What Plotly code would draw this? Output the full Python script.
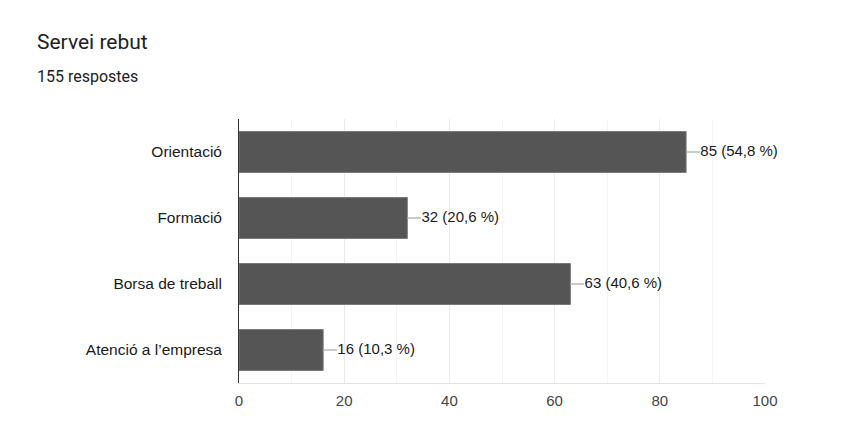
import plotly.graph_objects as go

categories = ["Orientació", "Formació", "Borsa de treball", "Atenció a l’empresa"]
counts = [85, 32, 63, 16]
percents = ["54,8", "20,6", "40,6", "10,3"]
title = "Servei rebut"
subtitle = "155 respostes"
x_ticks = [0, 20, 40, 60, 80, 100]

labels = [f"{c} ({p} %)" for c, p in zip(counts, percents)]
leader = 2.6

W, H = 852, 430
OFF = 8  # page body offset
pl, pr, pt, pb = 239 - OFF, 87 + OFF, 119 - OFF, 47 + OFF

fig = go.Figure()
fig.add_trace(go.Bar(
    y=categories, x=counts, orientation="h",
    marker=dict(color="#555555", line=dict(color="#7a7a7a", width=1)),
    width=0.62,
    error_x=dict(type="data", symmetric=False, array=[leader] * len(counts),
                 arrayminus=[0] * len(counts), width=0, color="#b8b8b8", thickness=1.5),
    hoverinfo="skip",
))
fig.add_trace(go.Scatter(
    y=categories, x=[c + leader + 0.1 for c in counts], mode="text",
    text=labels, textposition="middle right",
    textfont=dict(family="Liberation Sans, Arial", size=15, color="#1a1a1a"),
    hoverinfo="skip", cliponaxis=False,
))

fig.update_layout(
    width=W, height=H,
    margin=dict(l=pl, r=pr, t=pt, b=pb),
    paper_bgcolor="white", plot_bgcolor="white",
    showlegend=False,
    xaxis=dict(range=[0, 100], tickvals=x_ticks, showgrid=True, gridcolor="#ebebeb", gridwidth=1,
               minor=dict(dtick=10, showgrid=True, gridcolor="#f4f4f4", gridwidth=1),
               showline=True, linecolor="#e3e3e3", linewidth=1, zeroline=False,
               tickfont=dict(family="Liberation Sans, Arial", size=15, color="#444444"),
               ticks="", ticklen=0, ticklabelstandoff=4),
    yaxis=dict(autorange="reversed", showline=True, linecolor="#333333", linewidth=1,
               showgrid=False, zeroline=False, ticks="", ticklen=0,
               tickfont=dict(family="Liberation Sans, Arial", size=15.5, color="#1a1a1a"),
               ticksuffix="   "),
)

pw, ph = W - pl - pr, H - pt - pb
def px(x): return (x - OFF - pl) / pw
def py(y): return (H - pb - (y - OFF)) / ph

fig.layout.annotations = [
    dict(text=title, x=px(35), y=py(42), xref="paper", yref="paper", showarrow=False,
         xanchor="left", yanchor="middle",
         font=dict(family="Roboto", size=21, color="#202124")),
    dict(text=subtitle, x=px(35), y=py(76), xref="paper", yref="paper", showarrow=False,
         xanchor="left", yanchor="middle",
         font=dict(family="Roboto", size=16, color="#202124")),
]
fig.write_html("out.html")
